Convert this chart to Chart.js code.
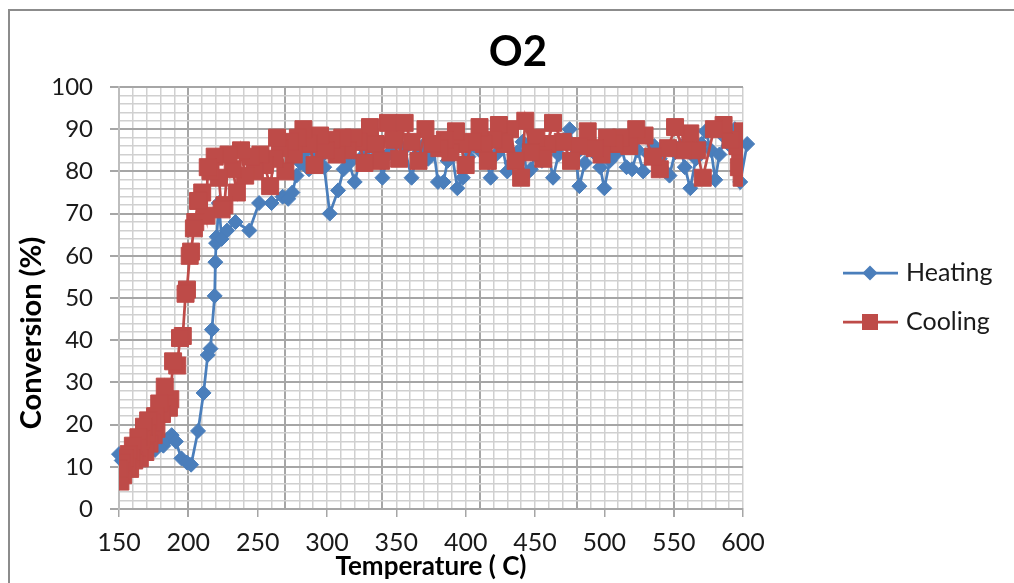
<!DOCTYPE html>
<html lang="en">
  <head>
    <meta charset="UTF-8" />
    <title>O2</title>
    <script src="https://cdn.jsdelivr.net/npm/chart.js@4.4.0/dist/chart.umd.min.js"></script>
    <style>
      body { margin: 0; background: #fff; }
    </style>
  </head>
  <body>
    <canvas id="myChart" width="1014" height="583"></canvas>
    <script>
      // heating run (temperature going up)
      var heatingTemp = [150, 152, 155, 158, 161, 164, 167, 170, 173, 176, 179, 182, 185, 188, 191, 195, 199, 202, 207, 211,
        214, 216, 217, 219, 219.5, 220, 220.5, 222, 224, 228, 234, 244, 251, 260, 268, 272, 275, 278, 281, 284,
        287, 290, 294, 298, 302, 308, 312, 316, 320, 324, 328, 332, 336, 340, 344, 348, 352, 356, 361, 365,
        369, 373, 377, 380, 384, 387, 390, 394, 398, 402, 406, 410, 414, 418, 422, 426, 430, 433, 437, 441,
        444, 447, 451, 455, 459, 463, 467, 471, 475, 479, 482, 486, 490, 494, 497, 500, 504, 508, 512, 516,
        520, 524, 528, 532, 536, 540, 544, 547, 551, 555, 558, 562, 566, 570, 573, 577, 580, 583, 587, 591,
        594, 598, 603];
      var heatingConv = [13.0, 11.5, 12.5, 11.0, 12.0, 13.0, 12.0, 13.5, 14.5, 14.0, 15.5, 15.0, 16.5, 17.5, 16.0, 12.0, 11.0, 10.5, 18.5, 27.5,
        36.5, 38.0, 42.5, 50.5, 58.5, 63.0, 64.5, 72.5, 64.0, 66.0, 68.0, 66.0, 72.5, 72.5, 74.0, 73.5, 75.0, 79.0, 82.0, 84.5,
        80.5, 85.0, 83.0, 81.0, 70.0, 75.5, 80.5, 82.0, 77.5, 83.0, 85.0, 82.5, 86.0, 78.5, 84.0, 86.5, 83.0, 85.5, 78.5, 84.0,
        86.0, 83.0, 85.0, 77.5, 77.5, 82.5, 84.5, 76.0, 78.5, 83.5, 86.0, 85.0, 84.0, 78.5, 84.0, 86.5, 80.0, 82.0, 84.5, 87.0,
        79.5, 80.5, 85.0, 82.5, 85.5, 78.5, 84.0, 87.5, 90.0, 84.0, 76.5, 82.0, 86.0, 84.0, 81.0, 76.0, 82.5, 84.0, 86.0, 81.0,
        80.5, 85.0, 80.0, 84.0, 86.0, 83.0, 80.0, 79.0, 84.5, 86.0, 81.0, 76.0, 83.0, 86.5, 89.5, 85.0, 78.0, 84.0, 88.0, 86.0,
        90.0, 77.5, 86.5];

      // cooling run (temperature going down)
      var coolingTemp = [600, 598, 599, 597, 596, 591, 586, 579, 571, 567, 562, 557, 551, 546, 540, 535, 529, 523, 518, 512,
        507, 502, 498, 493, 488, 482, 476, 470, 463, 459, 456, 451, 447, 443, 440, 436, 432, 428, 424, 420,
        416, 413, 410, 405, 400, 396, 393, 389, 385, 381, 376, 371, 366, 361, 356, 352, 348, 344, 339, 335,
        331, 327, 323, 319, 315, 311, 307, 303, 299, 295, 291, 287, 283, 279, 276, 273, 270, 266, 264, 262,
        259, 255, 252, 248, 245, 241, 238, 235, 232, 229, 226, 224, 222, 219, 216, 214, 213, 210, 207, 205,
        204, 202, 201, 199, 198, 196, 194, 192, 189, 187, 186, 183, 181, 179, 177, 176, 175, 174, 172, 171,
        170, 169, 168, 166, 165, 164, 163, 161, 160, 159, 158, 157, 156, 154, 153, 152, 151, 151, 150];
      var coolingConv = [89.5, 83.5, 78.5, 81.0, 86.0, 87.5, 91.0, 90.0, 78.5, 85.0, 89.0, 85.0, 90.5, 85.5, 80.5, 83.5, 88.5, 90.0, 86.0, 88.0,
        86.5, 88.0, 84.0, 85.5, 89.5, 86.0, 82.5, 87.0, 91.5, 86.5, 83.0, 88.0, 84.5, 92.0, 78.5, 82.5, 90.0, 86.5, 91.0, 87.5,
        82.5, 86.5, 90.5, 87.0, 81.5, 86.5, 89.5, 84.5, 87.5, 85.5, 86.5, 90.0, 82.5, 87.0, 91.5, 83.0, 87.5, 91.5, 82.5, 86.5,
        90.5, 82.0, 87.0, 88.0, 85.0, 88.0, 84.0, 87.5, 85.0, 88.5, 81.5, 86.5, 90.0, 88.0, 84.0, 87.0, 80.0, 85.5, 88.0, 83.0,
        76.5, 81.5, 84.0, 80.0, 83.5, 79.0, 85.0, 75.0, 80.5, 84.0, 72.0, 71.0, 78.5, 83.5, 80.0, 81.0, 69.5, 75.0, 73.0, 68.0,
        66.5, 61.0, 60.0, 52.0, 51.0, 41.0, 40.5, 34.0, 35.0, 26.0, 24.0, 29.0, 22.5, 25.0, 19.0, 22.0, 17.5, 20.5, 15.5, 21.0,
        18.0, 13.5, 19.5, 16.5, 12.0, 17.0, 14.5, 11.5, 15.0, 12.0, 9.5, 13.0, 10.0, 12.0, 8.0, 11.0, 9.0, 6.5, 9.5];

      var xLabels = [150, 200, 250, 300, 350, 400, 450, 500, 550, 600];
      var yLabels = [0, 10, 20, 30, 40, 50, 60, 70, 80, 90, 100];

      var blue = "#4a7ebb";
      var red = "#be4b48";
      var gridMinor = "#d0d0d0";
      var gridMajor = "#a6a6a6";

      function toPoints(xs, ys) {
        var pts = [];
        for (var i = 0; i < xs.length; i++) pts.push({ x: xs[i], y: ys[i] });
        return pts;
      }

      // darker vertical lines every 70 degrees starting at 200
      function isMajorX(v) {
        return v >= 200 && (v - 200) % 70 === 0;
      }

      // title, frame, y title and legend are drawn by hand
      var decorPlugin = {
        id: "decor",
        beforeDraw: function (chart) {
          var c = chart.ctx;
          c.save();
          c.strokeStyle = "#8c8c8c";
          c.lineWidth = 2;
          c.strokeRect(9, 10, 1020, 600);
          c.restore();
        },
        afterDraw: function (chart) {
          var c = chart.ctx;
          c.save();
          c.fillStyle = "#000";
          c.font = "bold 42px Lato";
          c.textAlign = "center";
          c.textBaseline = "middle";
          c.fillText("O2", 518, 52);

          c.save();
          c.translate(32, 333);
          c.rotate(-Math.PI / 2);
          c.font = "bold 29px Lato";
          c.fillText("Conversion (%)", 0, 0);
          c.restore();

          var items = [
            { label: "Heating", color: blue, style: "diamond", y: 273 },
            { label: "Cooling", color: red, style: "square", y: 322 },
          ];
          items.forEach(function (it) {
            c.strokeStyle = it.color;
            c.fillStyle = it.color;
            c.lineWidth = 2.75;
            c.beginPath();
            c.moveTo(843, it.y);
            c.lineTo(898, it.y);
            c.stroke();
            c.beginPath();
            if (it.style === "diamond") {
              c.moveTo(870, it.y - 7.5);
              c.lineTo(877.5, it.y);
              c.lineTo(870, it.y + 7.5);
              c.lineTo(862.5, it.y);
              c.closePath();
              c.fill();
            } else {
              c.fillRect(862, it.y - 8, 16, 16);
            }
            c.fillStyle = "#1a1a1a";
            c.font = "25px Lato";
            c.textAlign = "left";
            c.textBaseline = "middle";
            c.fillText(it.label, 906, it.y);
          });
          c.restore();
        },
      };

      const ctx = document.getElementById("myChart").getContext("2d");
      const myChart = new Chart(ctx, {
        type: "line",
        data: {
          datasets: [
            {
              label: "Heating",
              data: toPoints(heatingTemp, heatingConv),
              borderColor: blue,
              backgroundColor: blue,
              borderWidth: 2.75,
              pointStyle: "rectRot",
              pointRadius: 7.5,
              pointBorderWidth: 1,
              tension: 0,
              order: 2,
              clip: false,
            },
            {
              label: "Cooling",
              data: toPoints(coolingTemp, coolingConv),
              borderColor: red,
              backgroundColor: red,
              borderWidth: 2.75,
              pointStyle: "rect",
              pointRadius: 12,
              pointBorderWidth: 1,
              tension: 0,
              order: 1,
            },
          ],
        },
        options: {
          responsive: false,
          animation: false,
          devicePixelRatio: 1,
          layout: { padding: { left: 0, top: 87, right: 271, bottom: 0 } },
          plugins: {
            legend: { display: false },
            title: { display: false },
            tooltip: { enabled: false },
          },
          scales: {
            x: {
              type: "linear",
              min: 150,
              max: 600,
              afterFit: function (s) { s.height = 74; },
              ticks: {
                stepSize: 10,
                autoSkip: false,
                maxRotation: 0,
                padding: 11,
                color: "#1a1a1a",
                font: { family: "Lato", size: 25 },
                callback: function (v) { return xLabels.indexOf(v) >= 0 ? String(v) : ""; },
              },
              grid: {
                color: function (c) { return isMajorX(c.tick.value) ? gridMajor : gridMinor; },
                lineWidth: function (c) { return isMajorX(c.tick.value) ? 2 : 1.5; },
                tickLength: 8,
                tickColor: function (c) { return xLabels.indexOf(c.tick.value) >= 0 ? gridMajor : "rgba(0,0,0,0)"; },
              },
              border: { color: gridMajor, width: 2 },
              title: {
                display: true,
                text: "Temperature ( C)",
                color: "#000",
                font: { family: "Lato", size: 26, weight: "bold" },
                padding: { top: 0, bottom: 1 },
              },
            },
            y: {
              min: 0,
              max: 100,
              afterFit: function (s) { s.width = 119; },
              ticks: {
                stepSize: 2,
                autoSkip: false,
                padding: 17,
                color: "#1a1a1a",
                font: { family: "Lato", size: 24 },
                callback: function (v) { return yLabels.indexOf(v) >= 0 ? String(v) : ""; },
              },
              grid: {
                color: function (c) { return yLabels.indexOf(c.tick.value) >= 0 ? gridMajor : gridMinor; },
                lineWidth: function (c) { return yLabels.indexOf(c.tick.value) >= 0 ? 2 : 1.5; },
                tickLength: 9,
                tickColor: function (c) { return yLabels.indexOf(c.tick.value) >= 0 ? gridMajor : "rgba(0,0,0,0)"; },
              },
              border: { color: "#bdbdbd", width: 2 },
            },
          },
        },
        plugins: [decorPlugin],
      });
    </script>
  </body>
</html>
